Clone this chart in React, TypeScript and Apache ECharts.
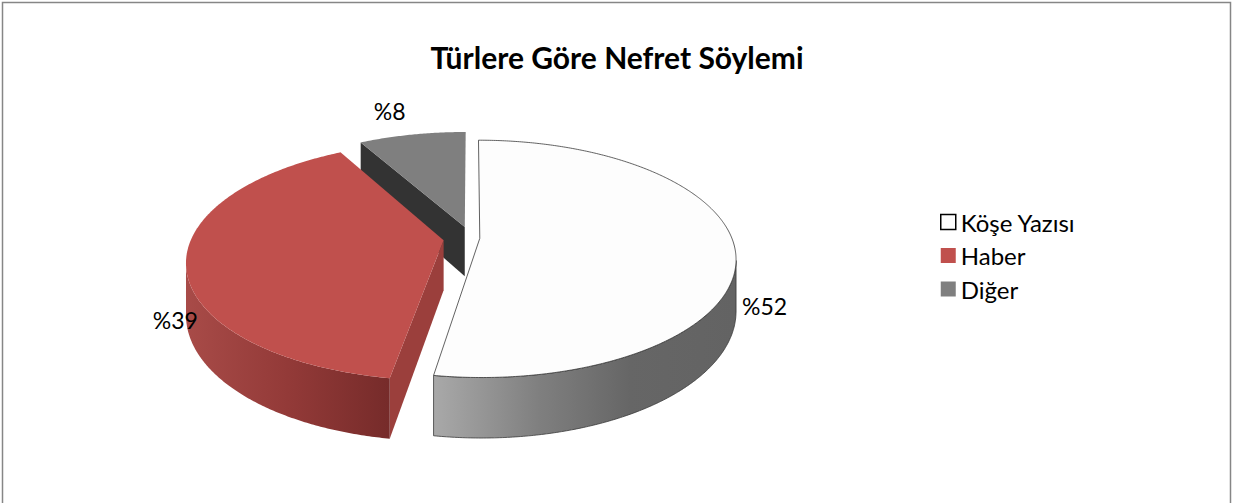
import React, { useEffect, useRef } from "react";
import * as echarts from "echarts";

const title = "Türlere Göre Nefret Söylemi";
const categories = ["Köşe Yazısı", "Haber", "Diğer"];
const values = [52, 39, 8];

// styles (not data)
const topColors = ["#fdfdfd", "#c0504d", "#7f7f7f"];
const wallStops = [
  [
    [0, "#a9a9a9"],
    [0.35, "#7f7f7f"],
    [0.65, "#666666"],
    [1, "#636363"],
  ],
  [
    [0, "#a84b48"],
    [0.5, "#933a38"],
    [1, "#762b2a"],
  ],
  [
    [0, "#6a6a6a"],
    [1, "#4a4a4a"],
  ],
];
const faceColors = ["#8a8a8a", "#9b3f3c", "#333333"];
const outlineColors = ["#3a3a3a", "", ""];
const explode = [0.035, 0.11, 0.1];

const FONT = "Lato";
const CX = 471;
const CY = 238;
const RX = 252;
const RY = 115;
const P = 0.173;
const H = 50;

const total = values.reduce((a, b) => a + b, 0);

function proj(u: number, v: number, z: number): number[] {
  const s = 1 / (1 - P * v);
  return [CX + RX * u * s, CY + (RY * v + H * z) * s];
}

function sliceAngles(i: number) {
  let before = 0;
  for (let k = 0; k < i; k++) before += values[k];
  const start = (before / total) * Math.PI * 2;
  const end = ((before + values[i]) / total) * Math.PI * 2;
  return { start, end, mid: (start + end) / 2 };
}

function makeRender(i: number) {
  return (params: any, api: any) => {
    const val = api.value(0);
    const { start, end, mid } = sliceAngles(i);
    const ou = explode[i] * Math.sin(mid);
    const ov = -explode[i] * Math.cos(mid);
    const V = 1 / P;
    const steps = Math.max(2, Math.ceil((end - start) / (Math.PI / 360)));
    const angs: number[] = [];
    for (let k = 0; k <= steps; k++) angs.push(start + ((end - start) * k) / steps);
    const pt = (a: number, z: number) => proj(ou + Math.sin(a), ov - Math.cos(a), z);
    const stroke = outlineColors[i];
    const lineStyle = stroke
      ? { stroke, lineWidth: 0.8, lineJoin: "round" }
      : { stroke: null, lineWidth: 0 };
    const children: any[] = [];

    // radial faces
    const O0 = proj(ou, ov, 0);
    const O1 = proj(ou, ov, 1);
    const dStart = ou * Math.cos(start) - (V - ov) * Math.sin(start);
    if (dStart > 0.05) {
      children.push({
        type: "polygon",
        shape: { points: [O0, pt(start, 0), pt(start, 1), O1] },
        style: { fill: faceColors[i], ...lineStyle },
        z2: 1,
      });
    }
    const dEnd = -ou * Math.cos(end) + (V - ov) * Math.sin(end);
    if (dEnd > 0.05) {
      children.push({
        type: "polygon",
        shape: { points: [O0, pt(end, 0), pt(end, 1), O1] },
        style: { fill: faceColors[i], ...lineStyle },
        z2: 1,
      });
    }

    // outer wall
    const vis = (a: number) => -ou * Math.sin(a) - (V - ov) * Math.cos(a) > 1;
    const visAngs = angs.filter(vis);
    if (visAngs.length >= 2) {
      const topPts = visAngs.map((a) => pt(a, 0));
      const botPts = visAngs.map((a) => pt(a, 1)).reverse();
      children.push({
        type: "polygon",
        shape: { points: topPts.concat(botPts) },
        style: {
          fill: new echarts.graphic.LinearGradient(
            0,
            0,
            1,
            0,
            wallStops[i].map((s) => ({ offset: s[0] as number, color: s[1] as string }))
          ),
          ...lineStyle,
        },
        z2: 2,
      });
    }

    // top face
    children.push({
      type: "polygon",
      shape: { points: [O0].concat(angs.map((a) => pt(a, 0))) },
      style: { fill: topColors[i], ...lineStyle },
      z2: 3,
    });

    // data label (placed from the unexploded centre)
    const sm = Math.sin(mid);
    const isFront = -Math.cos(mid) > 0;
    const r = isFront ? 1.15 : 1.25;
    const lp = proj(r * sm, -r * Math.cos(mid), isFront ? 1.12 : 0);
    const align = isFront ? "center" : sm < -0.2 ? "right" : sm > 0.2 ? "left" : "center";
    children.push({
      type: "text",
      x: lp[0],
      y: lp[1],
      style: {
        text: "%" + val,
        fill: "#000",
        fontFamily: FONT,
        fontSize: 23,
        align,
        verticalAlign: isFront ? "middle" : "bottom",
      },
      z2: 10,
    });

    return { type: "group", children };
  };
}

export default function App() {
  const ref = useRef<HTMLDivElement>(null);
  useEffect(() => {
    if (!ref.current) return;
    const chart = echarts.init(ref.current, null, { renderer: "svg" });
    const depth = values.map((_, i) => {
      const { mid } = sliceAngles(i);
      return -Math.cos(mid) * (1 + explode[i]);
    });
    const order = values.map((_, i) => i).sort((a, b) => depth[a] - depth[b]);
    const series = categories.map((name, i) => ({
      type: "custom",
      name,
      coordinateSystem: "none",
      z: 2 + order.indexOf(i),
      silent: true,
      itemStyle: {
        color: topColors[i],
        borderColor: i === 0 ? "#000" : topColors[i],
        borderWidth: i === 0 ? 1.5 : 0,
      },
      data: [{ value: values[i], name }],
      renderItem: makeRender(i),
    }));
    chart.setOption({
      animation: false,
      backgroundColor: "#ffffff",
      title: {
        text: title,
        left: "center",
        top: 37,
        textStyle: {
          fontFamily: FONT,
          fontWeight: "bold",
          fontSize: 30,
          color: "#000",
        },
      },
      legend: {
        orient: "vertical",
        left: 935,
        top: 205,
        icon: "rect",
        itemWidth: 15,
        itemHeight: 15,
        itemGap: 9.5,
        selectedMode: false,
        textStyle: { fontFamily: FONT, fontSize: 24, color: "#000", lineHeight: 22 },
        data: categories.map((name, i) => ({
          name,
          itemStyle: {
            color: topColors[i],
            borderColor: i === 0 ? "#000" : topColors[i],
            borderWidth: i === 0 ? 1.5 : 0,
          },
        })),
      },
      graphic: [
        {
          type: "rect",
          shape: { x: 2.5, y: 2.5, width: 1228, height: 520 },
          style: { fill: null, stroke: "#868686", lineWidth: 1.5 },
          silent: true,
        },
      ],
      series,
    });
    return () => chart.dispose();
  }, []);
  return (
    <div
      ref={ref}
      style={{ position: "fixed", left: 0, top: 0, width: 1234, height: 503 }}
    />
  );
}
